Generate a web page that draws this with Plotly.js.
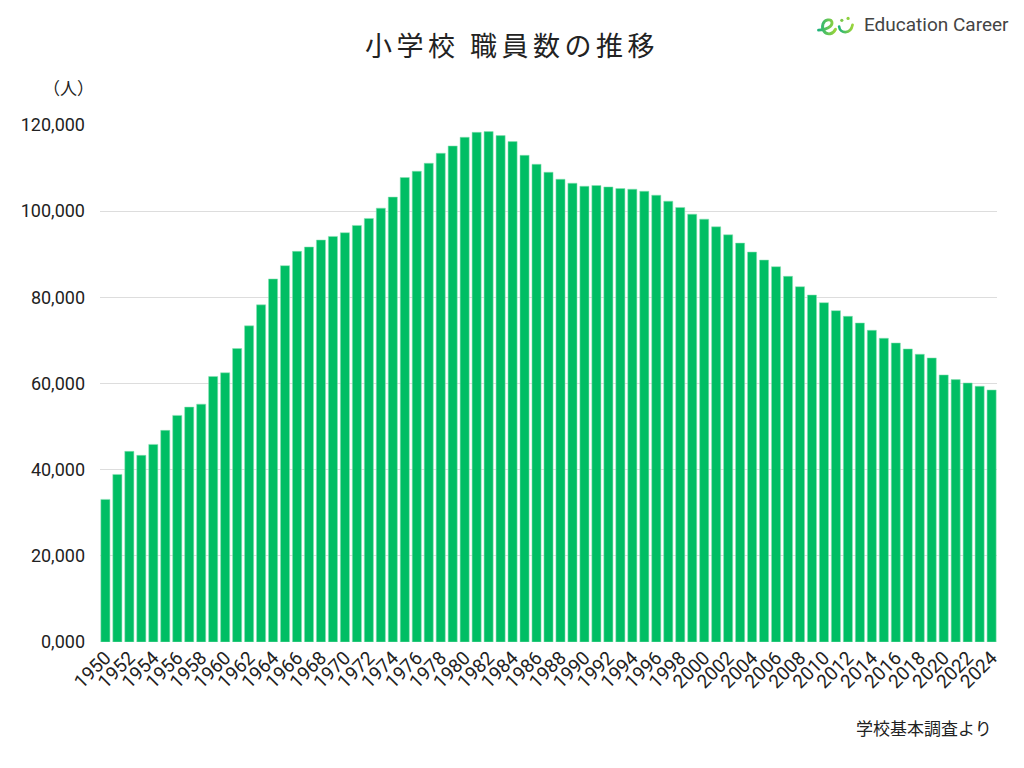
<!DOCTYPE html>
<html>
<head>
<meta charset="utf-8">
<script src="https://cdn.plot.ly/plotly-3.0.1.min.js"></script>
<style>
html,body{margin:0;padding:0;background:#fff;}
#chart{width:1024px;height:768px;}
#chart .gtitle{letter-spacing:4.5px;}
</style>
</head>
<body>
<div id="chart"></div>
<script>
const years = [];
for (let y = 1950; y <= 2024; y++) years.push(y);

const staff = [
  33100, 38900, 44250, 43330, 45870, 49120, 52600, 54520, 55210, 61630,
  62490, 68120, 73380, 78250, 84270, 87350, 90670, 91680, 93300, 94140,
  95000, 96690, 98310, 100700, 103270, 107810, 109270, 111120, 113440, 115130,
  117150, 118300, 118470, 117540, 116150, 112970, 110890, 109040, 107410, 106490,
  105790, 105950, 105630, 105250, 105100, 104630, 103710, 102320, 100860, 99300,
  98150, 96370, 94520, 92590, 90510, 88650, 87110, 84880, 82470, 80540,
  78760, 76910, 75600, 74050, 72350, 70500, 69410, 68020, 66790, 65930,
  61990, 60900, 60130, 59360, 58500
];

const yTickVals = [0, 20000, 40000, 60000, 80000, 100000, 120000];
const yTickText = ["0,000", "20,000", "40,000", "60,000", "80,000", "100,000", "120,000"];
const xTickVals = years.filter(y => y % 2 === 0);
const xTickText = xTickVals.map(String);

const titleText = "小学校 職員数の推移";
const unitText = "（人）";
const sourceText = "学校基本調査より";
const brandText = "Education Career";

const font = '"Noto Sans CJK JP", "Noto Sans", Roboto, sans-serif';
const numFont = 'Roboto, "Noto Sans", sans-serif';

const logoSvg = '<svg xmlns="http://www.w3.org/2000/svg" width="50" height="30" viewBox="0 0 50 30">' +
  '<defs><linearGradient id="g" x1="0" y1="0" x2="1" y2="0">' +
  '<stop offset="0" stop-color="#1fb37a"/><stop offset="1" stop-color="#9ad43a"/></linearGradient></defs>' +
  '<path d="M4 18 C12 18 20 14 19 9 C18 5 11 6 9 11 C7 17 11 23 17 22 C20 21.5 22 19 23 17" fill="none" stroke="url(#g)" stroke-width="3.2" stroke-linecap="round"/>' +
  '<path d="M27 14 C28 22 40 23 42 12" fill="none" stroke="url(#g)" stroke-width="3" stroke-linecap="round"/>' +
  '<circle cx="30" cy="7" r="1.8" fill="#7cc94a"/><circle cx="37" cy="5" r="1.8" fill="#8fd13f"/>' +
  '</svg>';
const logoUri = 'data:image/svg+xml;base64,' + btoa(logoSvg);

const trace = {
  type: 'bar',
  x: years,
  y: staff,
  marker: {color: '#00be64', line: {color: 'rgba(140,225,180,0.9)', width: 0.6}},
  hoverinfo: 'x+y'
};

const layout = {
  width: 1024,
  height: 768,
  paper_bgcolor: '#ffffff',
  plot_bgcolor: '#ffffff',
  margin: {l: 100, r: 27, t: 125, b: 126},
  bargap: 0.24,
  showlegend: false,
  font: {family: font, color: '#222'},
  title: {
    text: titleText,
    font: {family: font, size: 27, color: '#222'},
    x: 0.5, xanchor: 'center',
    y: 0.94, yanchor: 'middle', yref: 'container'
  },
  xaxis: {
    type: 'linear',
    range: [1949.55, 2024.45],
    tickmode: 'array',
    tickvals: xTickVals,
    ticktext: xTickText,
    tickangle: -45,
    tickfont: {family: numFont, size: 19, color: '#222'},
    showgrid: false,
    zeroline: false,
    showline: false,
    ticks: '',
    fixedrange: true
  },
  yaxis: {
    range: [0, 120000],
    tickmode: 'array',
    tickvals: yTickVals,
    ticktext: yTickText,
    tickfont: {family: numFont, size: 18, color: '#222'},
    showgrid: true,
    gridcolor: '#dddddd',
    gridwidth: 1,
    zeroline: false,
    showline: false,
    ticks: '',
    ticklen: 0,
    ticklabelstandoff: 14,
    fixedrange: true
  },
  annotations: [
    {text: unitText, xref: 'paper', yref: 'paper', x: -0.004, y: 1.0735, xanchor: 'right', yanchor: 'middle',
     showarrow: false, font: {family: font, size: 17, color: '#222'}},
    {text: sourceText, xref: 'paper', yref: 'paper', x: 0.997, y: -0.165, xanchor: 'right', yanchor: 'middle',
     showarrow: false, font: {family: font, size: 17, color: '#222'}},
    {text: brandText, xref: 'paper', yref: 'paper', x: 1.016, y: 1.195, xanchor: 'right', yanchor: 'middle',
     showarrow: false, font: {family: numFont, size: 19, color: '#444'}}
  ],
  images: [
    {source: logoUri, xref: 'paper', yref: 'paper', x: 0.797, y: 1.2147, sizex: 0.05, sizey: 0.052,
     xanchor: 'left', yanchor: 'top', sizing: 'contain', layer: 'above'}
  ]
};

Plotly.newPlot('chart', [trace], layout, {displayModeBar: false, staticPlot: true});
</script>
</body>
</html>
